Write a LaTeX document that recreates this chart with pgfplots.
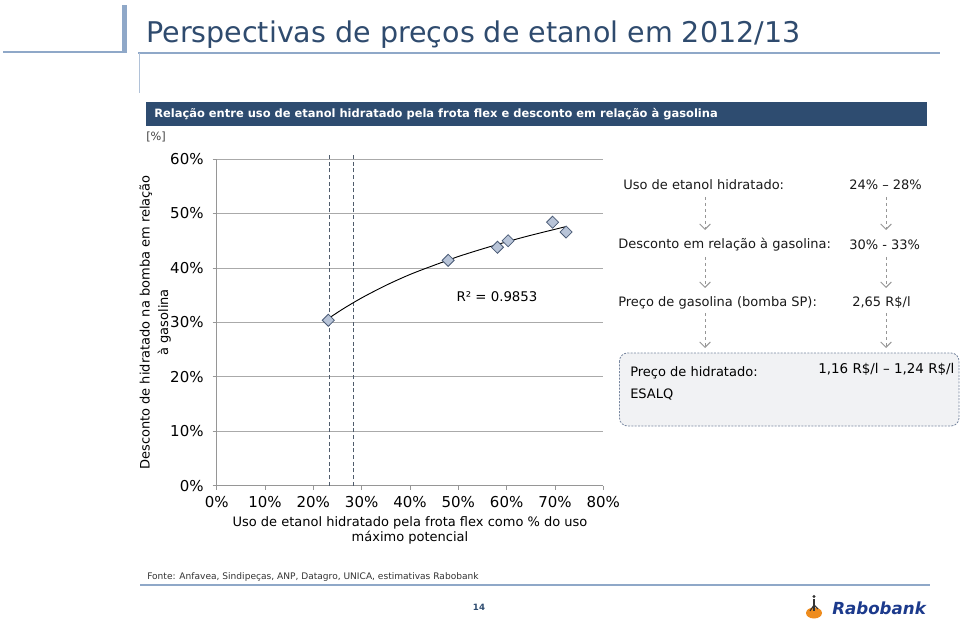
\documentclass[border=0pt]{standalone}
\usepackage{fontspec}
\setmainfont{DejaVu Sans}
\usepackage{pgfplots}
\pgfplotsset{compat=1.18}
\usetikzlibrary{arrows.meta}

\definecolor{TitleBlue}{RGB}{47,75,110}
\definecolor{BarBlue}{RGB}{46,76,112}
\definecolor{DecoBlue}{RGB}{143,168,200}
\definecolor{GridGray}{RGB}{170,170,170}
\definecolor{AxisGray}{RGB}{150,150,150}
\definecolor{DashGray}{RGB}{80,92,108}
\definecolor{MarkFill}{RGB}{184,196,216}
\definecolor{MarkEdge}{RGB}{74,90,117}
\definecolor{ArrowGray}{RGB}{150,150,150}
\definecolor{BoxFill}{RGB}{241,242,244}
\definecolor{BoxEdge}{RGB}{120,135,160}
\definecolor{LogoBlue}{RGB}{28,58,140}
\definecolor{LogoOrange}{RGB}{238,140,30}

\newcommand{\fsz}[1]{\fontsize{#1}{1.2\dimexpr #1pt\relax}\selectfont}

\begin{document}
\begin{tikzpicture}
% page frame and slide decoration, in pixel units (y downwards)
\begin{scope}[x=0.75pt,y=-0.75pt]
  \path[use as bounding box] (0,0) rectangle (960,627);
  \fill[DecoBlue] (121.7,5) rectangle (127.3,52);
  \draw[DecoBlue, line width=1.4pt] (3,52) -- (127,52);
  \draw[DecoBlue, line width=0.9pt] (138,53) -- (940,53);
  \draw[DecoBlue!70, line width=0.6pt] (139,53) -- (139,93);
  \node[anchor=base west, inner sep=0, text=TitleBlue, font=\fsz{21.4}]
    at (146,43) {Perspectivas de preços de etanol em 2012/13};
  \fill[BarBlue] (146,102) rectangle (927,126);
  \node[anchor=west, inner sep=0, text=white, font=\bfseries\fsz{8.6}]
    at (154,114) {Relação entre uso de etanol hidratado pela frota flex e desconto em relação à gasolina};
  \node[anchor=west, inner sep=0, text=black!75, font=\fsz{8.5}] at (146,137) {[\%]};

  % right-hand reasoning block
  \begin{scope}[font=\fsz{9.75}, text=black!90]
    \node[anchor=west, inner sep=0] at (623,185) {Uso de etanol hidratado:};
    \node[anchor=west, inner sep=0] at (849,185) {24\% – 28\%};
    \node[anchor=west, inner sep=0] at (618,245) {Desconto em relação à gasolina:};
    \node[anchor=west, inner sep=0] at (849,245) {30\% - 33\%};
    \node[anchor=west, inner sep=0] at (618,303) {Preço de gasolina (bomba SP):};
    \node[anchor=west, inner sep=0] at (852,303) {2,65 R\$/l};
  \end{scope}
  \foreach \ya/\yb in {197/230, 257/288, 313/348} {
    \draw[ArrowGray, line width=0.7pt, dash pattern=on 2.5pt off 2pt,
      -{Straight Barb[length=4pt,width=8pt]}] (705,\ya) -- (705,\yb);
    \draw[ArrowGray, line width=0.7pt, dash pattern=on 2.5pt off 2pt,
      -{Straight Barb[length=4pt,width=8pt]}] (886,\ya) -- (886,\yb);
  }
  \draw[BoxEdge, fill=BoxFill, line width=0.6pt, dash pattern=on 1.5pt off 1pt,
    rounded corners=6pt] (619.5,353) rectangle (959,426);
  \node[anchor=west, inner sep=0, font=\fsz{9.75}] at (630,373) {Preço de hidratado:};
  \node[anchor=west, inner sep=0, font=\fsz{9.75}] at (630,395) {ESALQ};
  \node[anchor=west, inner sep=0, font=\fsz{10.1}] at (818,369) {1,16 R\$/l – 1,24 R\$/l};

  % footer
  \draw[DecoBlue, line width=0.9pt] (140,585) -- (930,585);
  \node[anchor=west, inner sep=0, text=black!80, font=\fsz{6.8}]
    at (147,577) {Fonte: Anfavea, Sindipeças, ANP, Datagro, UNICA, estimativas Rabobank};
  \node[inner sep=0, text=BarBlue, font=\bfseries\fsz{6.5}] at (479,607) {14};
  \fill[LogoOrange] (814,613) ellipse (8 and 5.5);
  \draw[black!80, line width=1.2pt] (814,599) -- (814,611);
  \draw[black!80, line width=0.8pt] (814,605) -- (810,611) (814,605) -- (818,609);
  \fill[black!80] (814,596.5) circle (1.6);
  \node[anchor=west, inner sep=0, text=LogoBlue, font=\bfseries\itshape\fsz{12.5}]
    at (832,608) {Rabobank};
\end{scope}

\begin{axis}[
  at={(162.5pt,-364.3pt)}, anchor=south west,
  scale only axis, width=290pt, height=245pt,
  xmin=0, xmax=80, ymin=0, ymax=60,
  axis x line*=bottom, axis y line*=left,
  axis line style={draw=AxisGray, line width=0.6pt},
  xtick={0,10,...,80}, ytick={0,10,...,60},
  xticklabels={0\%,10\%,20\%,30\%,40\%,50\%,60\%,70\%,80\%},
  yticklabels={0\%,10\%,20\%,30\%,40\%,50\%,60\%},
  tick align=outside, major tick length=3pt,
  tick style={draw=AxisGray, line width=0.6pt},
  ymajorgrids, major grid style={draw=GridGray, line width=0.6pt},
  tick label style={font=\fsz{11.25}, text=black},
  yticklabel style={xshift=-3.3pt},
  xticklabel style={yshift=-1.5pt},
  xlabel={Uso de etanol hidratado pela frota flex como \% do uso\\máximo potencial},
  ylabel={Desconto de hidratado na bomba em relação\\à gasolina},
  xlabel style={font=\fontsize{9.75}{11.5}\selectfont, align=center,
    at={(axis description cs:0.5,-0.136)}, anchor=center},
  ylabel style={font=\fontsize{9.75}{14}\selectfont, align=center,
    at={(axis description cs:-0.159,0.5)}, anchor=center},
  clip=false,
]
  % usage range 24% - 28%
  \addplot[draw=DashGray, line width=0.7pt, dash pattern=on 3pt off 2pt]
    coordinates {(23.3,0) (23.3,61)};
  \addplot[draw=DashGray, line width=0.7pt, dash pattern=on 3pt off 2pt]
    coordinates {(28.3,0) (28.3,61)};
  % trend line
  \addplot[black, line width=0.7pt, smooth] coordinates {
    (23.1,30.7) (26,32.4) (30,34.5) (35,36.8) (40,38.8) (45,40.5)
    (50,42.1) (55,43.5) (60,44.8) (65,46.0) (72.3,47.6)
  };
  \addplot[only marks, mark=square*, mark size=3.2pt,
    mark options={rotate=45, fill=MarkFill, draw=MarkEdge, line width=0.6pt}]
    coordinates {
    (23.1,30.4) (47.9,41.4) (58.1,43.8) (60.3,45.0) (69.5,48.4) (72.3,46.6)
  };
  \node[font=\fsz{10}] at (axis cs:58,34.8) {R² = 0.9853};
\end{axis}
\end{tikzpicture}
\end{document}
